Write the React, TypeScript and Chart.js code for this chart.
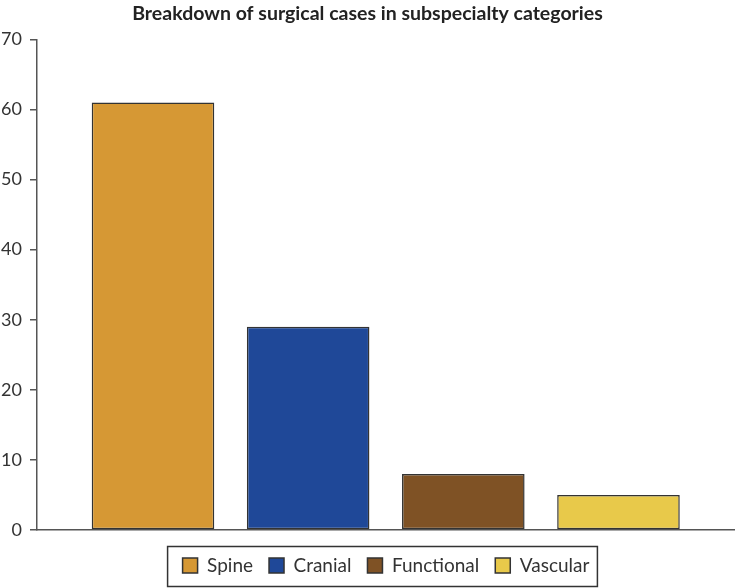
import React, { useEffect, useRef } from "react";
import { Chart, registerables } from "chart.js";

Chart.register(...registerables);

const categories = ["Spine", "Cranial", "Functional", "Vascular"];
const caseCounts = [61, 29, 8, 5];
const barColors = ["#D69834", "#1F4898", "#7F5225", "#E8C94A"];
const yMin = 0;
const yMax = 70;
const yStep = 10;
const titleText = "Breakdown of surgical cases in subspecialty categories";

const legendBorderPlugin = {
  id: "legendBorder",
  afterDraw(chart: any) {
    const lg = chart.legend;
    if (!lg || !lg.legendHitBoxes || !lg.legendHitBoxes.length) return;
    const boxes = lg.legendHitBoxes;
    const first = boxes[0];
    const last = boxes[boxes.length - 1];
    const cy = first.top + first.height / 2;
    const left = first.left - 15;
    const right = last.left + last.width + 8;
    const top = cy - 19;
    const bottom = cy + 21;
    const ctx = chart.ctx;
    ctx.save();
    ctx.strokeStyle = "#333333";
    ctx.lineWidth = 1.5;
    ctx.strokeRect(left, top, right - left, bottom - top);
    ctx.restore();
  },
};

export default function App() {
  const ref = useRef<HTMLCanvasElement | null>(null);

  useEffect(() => {
    if (!ref.current) return;
    Chart.defaults.font.family = "Lato";
    const chart = new Chart(ref.current, {
      type: "bar",
      data: {
        labels: categories,
        datasets: [
          {
            label: "Cases",
            data: caseCounts.map((v, i) => ({ x: i, y: v })),
            backgroundColor: barColors,
            borderColor: "#333333",
            borderWidth: 1.5,
            borderSkipped: false,
            categoryPercentage: 1,
            barPercentage: 0.79,
          },
        ],
      },
      options: {
        responsive: false,
        animation: false,
        layout: { padding: { top: 0, right: 0, bottom: 3, left: 0 } },
        plugins: {
          title: {
            display: true,
            text: titleText,
            color: "#222222",
            font: { size: 19.5, weight: "bold" },
            padding: { top: 2, bottom: 14 },
          },
          legend: {
            display: true,
            position: "bottom",
            fullSize: false,
            labels: {
              boxWidth: 15,
              boxHeight: 15,
              padding: 16,
              color: "#333333",
              font: { size: 19 },
              generateLabels: () =>
                categories.map((c, i) => ({
                  text: c,
                  fillStyle: barColors[i],
                  strokeStyle: "#333333",
                  lineWidth: 1.5,
                  hidden: false,
                  index: i,
                  datasetIndex: 0,
                  fontColor: "#333333",
                })),
            },
          },
          tooltip: { enabled: false },
        },
        scales: {
          x: {
            type: "linear",
            offset: false,
            min: -0.7476,
            max: 3.751,
            ticks: { display: false, stepSize: 1, includeBounds: false },
            grid: { display: false, drawTicks: false, offset: false },
            border: { display: true, color: "#555555", width: 1.5 },
            afterFit: (s: any) => {
              s.height = 10;
            },
          },
          y: {
            min: yMin,
            max: yMax,
            ticks: {
              stepSize: yStep,
              color: "#333333",
              font: { size: 18 },
              padding: 8,
            },
            grid: {
              drawOnChartArea: false,
              drawTicks: true,
              tickLength: 7,
              color: "#555555",
              lineWidth: 1.5,
            },
            border: { display: true, color: "#555555", width: 1.5 },
            afterFit: (s: any) => {
              s.width = 37;
            },
          },
        },
      },
      plugins: [legendBorderPlugin],
    } as any);
    return () => chart.destroy();
  }, []);

  return (
    <div style={{ position: "fixed", left: 0, top: 0, width: 735, height: 588, background: "#ffffff" }}>
      <canvas ref={ref} width={735} height={588} />
    </div>
  );
}
